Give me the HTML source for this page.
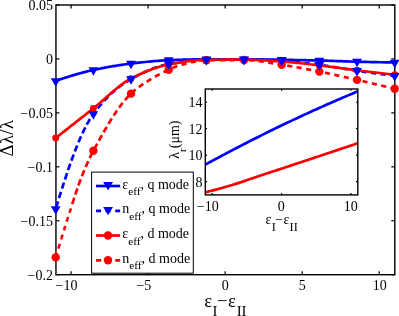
<!DOCTYPE html>
<html><head><meta charset="utf-8"><title>chart</title>
<style>
html,body{margin:0;padding:0;background:#fff;}
svg{display:block;will-change:transform;}
text{font-family:"Liberation Serif",serif;fill:#000;}
</style></head><body>
<svg width="399" height="316" viewBox="0 0 399 316">
<rect width="399" height="316" fill="#fff"/>
<defs><clipPath id="ins"><rect x="205.3" y="89.0" width="152.5" height="105.9"/></clipPath></defs>
<rect x="55.95" y="5.0" width="338.85" height="269.7" fill="none" stroke="#000" stroke-width="1.4"/>
<g stroke="#000" stroke-width="1.2"><line x1="71.08" y1="274.7" x2="71.08" y2="271.2"/><line x1="71.08" y1="5.0" x2="71.08" y2="8.5"/><line x1="148.1" y1="274.7" x2="148.1" y2="271.2"/><line x1="148.1" y1="5.0" x2="148.1" y2="8.5"/><line x1="225.14" y1="274.7" x2="225.14" y2="271.2"/><line x1="225.14" y1="5.0" x2="225.14" y2="8.5"/><line x1="302.2" y1="274.7" x2="302.2" y2="271.2"/><line x1="302.2" y1="5.0" x2="302.2" y2="8.5"/><line x1="379.2" y1="274.7" x2="379.2" y2="271.2"/><line x1="379.2" y1="5.0" x2="379.2" y2="8.5"/><line x1="55.95" y1="5.00" x2="59.45" y2="5.00"/><line x1="394.8" y1="5.00" x2="391.3" y2="5.00"/><line x1="55.95" y1="58.94" x2="59.45" y2="58.94"/><line x1="394.8" y1="58.94" x2="391.3" y2="58.94"/><line x1="55.95" y1="112.88" x2="59.45" y2="112.88"/><line x1="394.8" y1="112.88" x2="391.3" y2="112.88"/><line x1="55.95" y1="166.82" x2="59.45" y2="166.82"/><line x1="394.8" y1="166.82" x2="391.3" y2="166.82"/><line x1="55.95" y1="220.76" x2="59.45" y2="220.76"/><line x1="394.8" y1="220.76" x2="391.3" y2="220.76"/><line x1="55.95" y1="274.70" x2="59.45" y2="274.70"/><line x1="394.8" y1="274.70" x2="391.3" y2="274.70"/></g>
<path d="M55.70,81.00 L57.83,80.25 L59.96,79.52 L62.10,78.79 L64.23,78.08 L66.36,77.39 L68.49,76.70 L70.62,76.03 L72.76,75.38 L74.89,74.74 L77.02,74.12 L79.15,73.52 L81.29,72.94 L83.42,72.37 L85.55,71.83 L87.68,71.30 L89.81,70.79 L91.95,70.31 L94.08,69.85 L96.21,69.40 L98.34,68.96 L100.47,68.53 L102.61,68.10 L104.74,67.69 L106.87,67.29 L109.00,66.91 L111.13,66.53 L113.27,66.16 L115.40,65.81 L117.53,65.47 L119.66,65.14 L121.79,64.82 L123.93,64.52 L126.06,64.22 L128.19,63.95 L130.32,63.68 L132.46,63.43 L134.59,63.18 L136.72,62.94 L138.85,62.69 L140.98,62.45 L143.12,62.22 L145.25,61.99 L147.38,61.77 L149.51,61.56 L151.64,61.35 L153.78,61.16 L155.91,60.98 L158.04,60.81 L160.17,60.66 L162.30,60.52 L164.44,60.40 L166.57,60.29 L168.70,60.20 L170.83,60.12 L172.97,60.04 L175.10,59.96 L177.23,59.89 L179.36,59.82 L181.49,59.75 L183.63,59.68 L185.76,59.62 L187.89,59.56 L190.02,59.51 L192.15,59.46 L194.29,59.42 L196.42,59.38 L198.55,59.35 L200.68,59.33 L202.81,59.31 L204.95,59.30 L207.08,59.30 L209.21,59.30 L211.34,59.30 L213.47,59.30 L215.61,59.30 L217.74,59.30 L219.87,59.30 L222.00,59.30 L224.14,59.30 L226.27,59.30 L228.40,59.30 L230.53,59.30 L232.66,59.30 L234.80,59.30 L236.93,59.30 L239.06,59.30 L241.19,59.30 L243.32,59.30 L245.46,59.30 L247.59,59.31 L249.72,59.32 L251.85,59.34 L253.98,59.36 L256.12,59.38 L258.25,59.41 L260.38,59.44 L262.51,59.47 L264.65,59.51 L266.78,59.54 L268.91,59.58 L271.04,59.62 L273.17,59.66 L275.31,59.69 L277.44,59.73 L279.57,59.77 L281.70,59.80 L283.83,59.83 L285.97,59.87 L288.10,59.90 L290.23,59.94 L292.36,59.97 L294.49,60.01 L296.63,60.04 L298.76,60.08 L300.89,60.12 L303.02,60.16 L305.16,60.20 L307.29,60.24 L309.42,60.28 L311.55,60.33 L313.68,60.37 L315.82,60.42 L317.95,60.47 L320.08,60.52 L322.21,60.57 L324.34,60.63 L326.48,60.69 L328.61,60.76 L330.74,60.83 L332.87,60.90 L335.00,60.98 L337.14,61.05 L339.27,61.13 L341.40,61.20 L343.53,61.28 L345.66,61.35 L347.80,61.42 L349.93,61.49 L352.06,61.56 L354.19,61.62 L356.33,61.68 L358.46,61.74 L360.59,61.79 L362.72,61.84 L364.85,61.89 L366.99,61.94 L369.12,61.99 L371.25,62.04 L373.38,62.09 L375.51,62.14 L377.65,62.18 L379.78,62.23 L381.91,62.27 L384.04,62.31 L386.17,62.35 L388.31,62.39 L390.44,62.43 L392.57,62.47 L394.70,62.50" fill="none" stroke="#0000ff" stroke-width="2.7" stroke-linejoin="round"/>
<path d="M56.12,207.59 L56.21,207.31 L56.29,207.03 L56.38,206.75 L56.46,206.47 L56.55,206.19 L56.63,205.91 L56.72,205.63 L56.80,205.36 L56.89,205.08 L56.97,204.80 L57.06,204.52 L57.14,204.24 L57.23,203.96 L57.31,203.68 L57.40,203.41 L57.48,203.13 L57.56,202.85 L57.65,202.57 L57.73,202.29 L57.82,202.02 L57.90,201.74 L57.99,201.46 M59.01,198.16 L59.18,197.61 L59.35,197.06 L59.51,196.52 L59.68,195.97 L59.85,195.42 L60.02,194.88 L60.19,194.34 L60.36,193.79 L60.53,193.25 L60.70,192.71 L60.87,192.17 L60.96,191.90 M61.97,188.69 L62.14,188.15 L62.31,187.62 L62.48,187.09 L62.65,186.56 L62.82,186.03 L62.99,185.50 L63.16,184.98 L63.33,184.45 L63.50,183.92 L63.67,183.40 L63.84,182.88 L63.92,182.62 M64.94,179.50 L65.11,178.99 L65.28,178.47 L65.45,177.96 L65.62,177.45 L65.79,176.93 L65.96,176.42 L66.13,175.92 L66.30,175.41 L66.47,174.90 L66.64,174.40 L66.81,173.89 L66.97,173.39 L67.06,173.14 M68.08,170.15 L68.25,169.65 L68.42,169.16 L68.59,168.67 L68.75,168.18 L68.92,167.69 L69.09,167.20 L69.26,166.71 L69.43,166.23 L69.60,165.74 L69.77,165.26 L69.94,164.78 L70.11,164.30 L70.28,163.82 M71.38,160.74 L71.55,160.27 L71.72,159.80 L71.89,159.33 L72.06,158.87 L72.23,158.41 L72.40,157.94 L72.57,157.48 L72.74,157.02 L72.91,156.57 L73.08,156.11 L73.25,155.65 L73.42,155.20 L73.59,154.75 L73.67,154.52 M74.86,151.40 L75.03,150.96 L75.20,150.53 L75.37,150.09 L75.54,149.65 L75.71,149.22 L75.88,148.79 L76.05,148.36 L76.21,147.93 L76.38,147.50 L76.55,147.08 L76.72,146.65 L76.89,146.23 L77.06,145.81 L77.23,145.39 M78.50,142.30 L78.67,141.89 L78.84,141.49 L79.01,141.09 L79.18,140.69 L79.35,140.29 L79.52,139.89 L79.69,139.50 L79.86,139.10 L80.03,138.71 L80.20,138.32 L80.37,137.93 L80.54,137.55 L80.71,137.16 L80.88,136.78 L81.05,136.40 M82.40,133.42 L82.57,133.05 L82.74,132.69 L82.91,132.33 L83.08,131.97 L83.25,131.61 L83.42,131.26 L83.59,130.90 L83.76,130.55 L83.93,130.20 L84.10,129.86 L84.27,129.51 L84.44,129.17 L84.61,128.83 L84.78,128.49 L84.95,128.15 L85.12,127.81 L85.29,127.48 M86.81,124.56 L87.07,124.09 L87.32,123.63 L87.57,123.17 L87.83,122.71 L88.08,122.26 L88.34,121.82 L88.59,121.37 L88.85,120.94 L89.10,120.50 L89.35,120.08 L89.61,119.66 L89.86,119.24 L89.95,119.10 M91.90,116.08 L92.15,115.71 L92.41,115.34 L92.66,114.98 L92.91,114.62 L93.17,114.27 L93.42,113.92 L93.68,113.58 L93.93,113.24 L94.19,112.90 L94.44,112.56 L94.70,112.22 L94.95,111.89 L95.20,111.55 L95.46,111.22 L95.54,111.11 M97.75,108.31 L98.00,107.99 L98.26,107.68 L98.51,107.37 L98.76,107.06 L99.02,106.75 L99.27,106.44 L99.53,106.14 L99.78,105.83 L100.04,105.53 L100.29,105.23 L100.54,104.93 L100.80,104.63 L101.05,104.33 L101.31,104.04 L101.56,103.74 L101.65,103.65 M104.10,100.90 L104.44,100.53 L104.78,100.16 L105.12,99.80 L105.46,99.44 L105.80,99.08 L106.14,98.72 L106.48,98.37 L106.82,98.02 L107.16,97.67 L107.50,97.33 L107.83,96.99 L108.17,96.65 M110.97,93.94 L111.31,93.62 L111.65,93.31 L111.99,93.00 L112.33,92.69 L112.67,92.38 L113.01,92.08 L113.34,91.78 L113.68,91.48 L114.02,91.18 L114.36,90.88 L114.70,90.59 L115.04,90.30 L115.29,90.08 M118.35,87.59 L118.69,87.33 L119.02,87.06 L119.36,86.80 L119.70,86.54 L120.04,86.29 L120.38,86.03 L120.72,85.78 L121.06,85.53 L121.40,85.28 L121.74,85.04 L122.08,84.79 L122.42,84.55 L122.75,84.31 L122.84,84.25 M126.23,81.98 L126.57,81.76 L126.91,81.55 L127.25,81.34 L127.59,81.13 L127.93,80.92 L128.26,80.71 L128.60,80.51 L128.94,80.31 L129.28,80.11 L129.62,79.91 L129.96,79.71 L130.30,79.52 L130.64,79.32 L130.89,79.18 M134.54,77.17 L134.88,76.99 L135.22,76.81 L135.56,76.62 L135.89,76.44 L136.23,76.26 L136.57,76.08 L136.91,75.90 L137.25,75.73 L137.59,75.55 L137.93,75.37 L138.27,75.20 L138.61,75.02 L138.95,74.85 L139.29,74.67 L139.37,74.63 M143.18,72.74 L143.52,72.58 L143.86,72.42 L144.20,72.26 L144.54,72.10 L144.88,71.94 L145.22,71.78 L145.56,71.63 L145.90,71.47 L146.24,71.32 L146.58,71.17 L146.91,71.01 L147.25,70.86 L147.59,70.71 L147.93,70.56 L148.02,70.53 M152.00,68.87 L152.34,68.74 L152.68,68.60 L153.02,68.47 L153.36,68.34 L153.70,68.21 L154.04,68.09 L154.37,67.96 L154.71,67.84 L155.05,67.71 L155.39,67.59 L155.73,67.47 L156.07,67.35 L156.41,67.24 L156.75,67.12 L156.92,67.06 M161.16,65.74 L161.50,65.64 L161.83,65.55 L162.17,65.46 L162.51,65.37 L162.85,65.28 L163.19,65.19 L163.53,65.10 L163.87,65.02 L164.21,64.94 L164.55,64.86 L164.89,64.78 L165.23,64.70 L165.56,64.62 L165.90,64.55 L166.07,64.51 M170.48,63.69 L170.91,63.62 L171.33,63.55 L171.75,63.48 L172.18,63.40 L172.60,63.33 L173.02,63.26 L173.45,63.19 L173.87,63.12 L174.30,63.05 L174.72,62.98 L175.14,62.91 L175.48,62.86 M179.98,62.17 L180.40,62.10 L180.82,62.04 L181.25,61.98 L181.67,61.92 L182.09,61.86 L182.52,61.80 L182.94,61.74 L183.37,61.68 L183.79,61.63 L184.21,61.57 L184.64,61.51 L184.98,61.47 M189.47,60.92 L189.89,60.88 L190.32,60.83 L190.74,60.79 L191.17,60.74 L191.59,60.70 L192.01,60.66 L192.44,60.61 L192.86,60.57 L193.28,60.53 L193.71,60.49 L194.13,60.46 L194.47,60.43 M199.05,60.08 L199.47,60.06 L199.90,60.03 L200.32,60.01 L200.74,59.99 L201.17,59.97 L201.59,59.95 L202.02,59.93 L202.44,59.91 L202.86,59.89 L203.29,59.88 L203.71,59.86 L204.05,59.85 M208.63,59.77 L209.05,59.76 L209.48,59.76 L209.90,59.75 L210.32,59.74 L210.75,59.74 L211.17,59.73 L211.60,59.73 L212.02,59.72 L212.44,59.72 L212.87,59.71 L213.29,59.70 L213.71,59.70 M218.29,59.65 L218.72,59.64 L219.14,59.64 L219.56,59.63 L219.99,59.63 L220.41,59.62 L220.84,59.62 L221.26,59.62 L221.68,59.61 L222.11,59.61 L222.53,59.60 L222.96,59.60 L223.29,59.60 M227.87,59.56 L228.30,59.56 L228.72,59.55 L229.14,59.55 L229.57,59.55 L229.99,59.55 L230.41,59.54 L230.84,59.54 L231.26,59.54 L231.69,59.54 L232.11,59.53 L232.53,59.53 L232.87,59.53 M237.45,59.51 L237.87,59.51 L238.30,59.51 L238.72,59.51 L239.15,59.51 L239.57,59.50 L239.99,59.50 L240.42,59.50 L240.84,59.50 L241.27,59.50 L241.69,59.50 L242.11,59.50 L242.45,59.50 M247.03,59.51 L247.45,59.51 L247.88,59.52 L248.30,59.52 L248.73,59.52 L249.15,59.53 L249.57,59.53 L250.00,59.54 L250.42,59.54 L250.85,59.55 L251.27,59.55 L251.69,59.56 L252.12,59.57 M256.69,59.66 L257.12,59.67 L257.54,59.68 L257.97,59.69 L258.39,59.70 L258.81,59.71 L259.24,59.72 L259.66,59.74 L260.09,59.75 L260.51,59.76 L260.93,59.77 L261.36,59.78 L261.70,59.80 M266.27,59.95 L266.70,59.96 L267.12,59.98 L267.55,60.00 L267.97,60.01 L268.39,60.03 L268.82,60.04 L269.24,60.06 L269.66,60.08 L270.09,60.09 L270.51,60.11 L270.94,60.13 L271.28,60.14 M275.85,60.34 L276.28,60.35 L276.70,60.37 L277.12,60.39 L277.55,60.41 L277.97,60.43 L278.40,60.45 L278.82,60.47 L279.24,60.49 L279.67,60.51 L280.09,60.53 L280.52,60.55 L280.85,60.56 M285.43,60.81 L285.86,60.84 L286.28,60.87 L286.70,60.90 L287.13,60.93 L287.55,60.96 L287.98,61.00 L288.40,61.03 L288.82,61.07 L289.25,61.10 L289.67,61.14 L290.09,61.18 L290.43,61.21 M295.01,61.66 L295.44,61.71 L295.86,61.75 L296.28,61.80 L296.71,61.85 L297.13,61.90 L297.55,61.94 L297.98,61.99 L298.40,62.04 L298.83,62.09 L299.25,62.14 L299.67,62.20 L300.01,62.24 M304.51,62.80 L304.93,62.86 L305.35,62.91 L305.78,62.97 L306.20,63.03 L306.62,63.08 L307.05,63.14 L307.47,63.20 L307.90,63.25 L308.32,63.31 L308.74,63.37 L309.17,63.42 L309.51,63.47 M314.08,64.09 L314.51,64.15 L314.93,64.21 L315.36,64.26 L315.78,64.32 L316.20,64.38 L316.63,64.44 L317.05,64.49 L317.48,64.55 L317.90,64.61 L318.32,64.66 L318.75,64.72 L319.09,64.76 M323.58,65.38 L324.00,65.45 L324.43,65.51 L324.85,65.57 L325.27,65.63 L325.70,65.70 L326.12,65.76 L326.55,65.83 L326.97,65.89 L327.39,65.96 L327.82,66.02 L328.24,66.09 L328.58,66.14 M333.07,66.87 L333.50,66.94 L333.92,67.01 L334.35,67.08 L334.77,67.16 L335.19,67.23 L335.62,67.30 L336.04,67.37 L336.46,67.44 L336.89,67.51 L337.31,67.58 L337.74,67.66 L338.08,67.71 M342.57,68.48 L342.99,68.55 L343.42,68.62 L343.84,68.69 L344.26,68.77 L344.69,68.84 L345.11,68.91 L345.54,68.98 L345.96,69.05 L346.38,69.12 L346.81,69.19 L347.23,69.26 L347.57,69.32 M352.06,70.05 L352.40,70.10 L352.74,70.15 L353.08,70.21 L353.42,70.26 L353.76,70.31 L354.10,70.36 L354.44,70.41 L354.78,70.47 L355.11,70.52 L355.45,70.57 L355.79,70.62 L356.13,70.67 L356.47,70.72 L356.81,70.77 L356.98,70.79 M361.56,71.45 L361.98,71.51 L362.40,71.57 L362.83,71.63 L363.25,71.69 L363.68,71.75 L364.10,71.81 L364.52,71.87 L364.95,71.93 L365.37,71.99 L365.80,72.05 L366.22,72.10 L366.56,72.15 M371.05,72.77 L371.48,72.83 L371.90,72.89 L372.32,72.94 L372.75,73.00 L373.17,73.06 L373.59,73.11 L374.02,73.17 L374.44,73.23 L374.87,73.29 L375.29,73.34 L375.71,73.40 L376.05,73.44 M380.55,74.03 L380.97,74.09 L381.39,74.14 L381.82,74.20 L382.24,74.25 L382.67,74.31 L383.09,74.36 L383.51,74.42 L383.94,74.47 L384.36,74.52 L384.78,74.58 L385.21,74.63 L385.55,74.67 M390.13,75.25 L390.46,75.29 L390.80,75.33 L391.14,75.37 L391.48,75.41 L391.82,75.45 L392.16,75.49 L392.50,75.53 L392.84,75.58 L393.18,75.62 L393.52,75.66 L393.86,75.70 L394.19,75.74 L394.53,75.78 L394.70,75.80" fill="none" stroke="#0000ff" stroke-width="2.7" stroke-linejoin="round"/>
<path d="M55.70,138.00 L57.83,136.33 L59.96,134.66 L62.10,132.99 L64.23,131.32 L66.36,129.64 L68.49,127.97 L70.62,126.30 L72.76,124.62 L74.89,122.95 L77.02,121.27 L79.15,119.59 L81.29,117.92 L83.42,116.24 L85.55,114.56 L87.68,112.88 L89.81,111.20 L91.95,109.52 L94.08,107.84 L96.21,106.10 L98.34,104.31 L100.47,102.48 L102.61,100.62 L104.74,98.74 L106.87,96.85 L109.00,94.97 L111.13,93.10 L113.27,91.27 L115.40,89.47 L117.53,87.72 L119.66,86.03 L121.79,84.43 L123.93,82.90 L126.06,81.48 L128.19,80.16 L130.32,78.97 L132.46,77.88 L134.59,76.82 L136.72,75.79 L138.85,74.78 L140.98,73.79 L143.12,72.84 L145.25,71.92 L147.38,71.03 L149.51,70.18 L151.64,69.36 L153.78,68.59 L155.91,67.86 L158.04,67.18 L160.17,66.54 L162.30,65.95 L164.44,65.41 L166.57,64.93 L168.70,64.50 L170.83,64.10 L172.97,63.71 L175.10,63.32 L177.23,62.94 L179.36,62.57 L181.49,62.21 L183.63,61.87 L185.76,61.55 L187.89,61.24 L190.02,60.96 L192.15,60.71 L194.29,60.48 L196.42,60.28 L198.55,60.11 L200.68,59.97 L202.81,59.88 L204.95,59.82 L207.08,59.80 L209.21,59.79 L211.34,59.78 L213.47,59.77 L215.61,59.76 L217.74,59.75 L219.87,59.74 L222.00,59.73 L224.14,59.73 L226.27,59.72 L228.40,59.72 L230.53,59.71 L232.66,59.71 L234.80,59.71 L236.93,59.70 L239.06,59.70 L241.19,59.70 L243.32,59.70 L245.46,59.70 L247.59,59.73 L249.72,59.76 L251.85,59.82 L253.98,59.88 L256.12,59.96 L258.25,60.06 L260.38,60.16 L262.51,60.27 L264.65,60.39 L266.78,60.52 L268.91,60.65 L271.04,60.79 L273.17,60.93 L275.31,61.07 L277.44,61.22 L279.57,61.36 L281.70,61.50 L283.83,61.65 L285.97,61.81 L288.10,61.98 L290.23,62.17 L292.36,62.37 L294.49,62.58 L296.63,62.80 L298.76,63.02 L300.89,63.25 L303.02,63.49 L305.16,63.74 L307.29,63.98 L309.42,64.23 L311.55,64.48 L313.68,64.74 L315.82,64.99 L317.95,65.24 L320.08,65.48 L322.21,65.74 L324.34,66.00 L326.48,66.26 L328.61,66.54 L330.74,66.81 L332.87,67.10 L335.00,67.38 L337.14,67.67 L339.27,67.96 L341.40,68.25 L343.53,68.54 L345.66,68.82 L347.80,69.11 L349.93,69.39 L352.06,69.67 L354.19,69.94 L356.33,70.21 L358.46,70.47 L360.59,70.74 L362.72,70.99 L364.85,71.25 L366.99,71.51 L369.12,71.76 L371.25,72.02 L373.38,72.27 L375.51,72.52 L377.65,72.77 L379.78,73.02 L381.91,73.26 L384.04,73.50 L386.17,73.75 L388.31,73.99 L390.44,74.23 L392.57,74.46 L394.70,74.70" fill="none" stroke="#ff0000" stroke-width="2.7" stroke-linejoin="round"/>
<path d="M55.70,257.40 L55.78,257.11 L55.87,256.82 L55.95,256.53 L56.04,256.25 L56.12,255.96 L56.21,255.67 L56.29,255.38 L56.38,255.10 L56.46,254.81 L56.55,254.52 L56.63,254.23 L56.72,253.95 L56.80,253.66 L56.89,253.37 L56.97,253.09 L57.06,252.80 M58.33,248.53 L58.41,248.25 L58.50,247.96 L58.58,247.68 L58.67,247.40 L58.75,247.11 L58.84,246.83 L58.92,246.55 L59.01,246.27 L59.09,245.98 L59.18,245.70 L59.26,245.42 L59.35,245.14 L59.43,244.86 L59.51,244.58 L59.60,244.30 L59.68,244.01 L59.77,243.73 M61.13,239.26 L61.21,238.98 L61.29,238.71 L61.38,238.43 L61.46,238.15 L61.55,237.87 L61.63,237.59 L61.72,237.32 L61.80,237.04 L61.89,236.76 L61.97,236.49 L62.06,236.21 L62.14,235.93 L62.23,235.66 L62.31,235.38 L62.40,235.11 L62.48,234.83 L62.57,234.56 M63.84,230.44 L63.92,230.17 L64.01,229.90 L64.09,229.63 L64.18,229.35 L64.26,229.08 L64.35,228.81 L64.43,228.54 L64.52,228.27 L64.60,227.99 L64.69,227.72 L64.77,227.45 L64.86,227.18 L64.94,226.91 L65.02,226.64 L65.11,226.37 L65.19,226.10 L65.28,225.83 M66.64,221.53 L66.72,221.26 L66.81,220.99 L66.89,220.72 L66.97,220.46 L67.06,220.19 L67.14,219.92 L67.23,219.66 L67.31,219.39 L67.40,219.13 L67.48,218.86 L67.57,218.59 L67.65,218.33 L67.74,218.06 L67.82,217.80 L67.91,217.53 L67.99,217.27 L68.08,217.00 M69.43,212.79 L69.52,212.53 L69.60,212.26 L69.69,212.00 L69.77,211.74 L69.86,211.47 L69.94,211.21 L70.03,210.95 L70.11,210.68 L70.20,210.42 L70.28,210.16 L70.37,209.89 L70.45,209.63 L70.54,209.36 L70.62,209.10 L70.70,208.84 L70.79,208.57 L70.87,208.31 M72.23,204.08 L72.40,203.55 L72.57,203.02 L72.74,202.50 L72.91,201.97 L73.08,201.44 L73.25,200.92 L73.42,200.39 L73.59,199.87 L73.76,199.34 L73.93,198.82 L74.10,198.30 L74.27,197.78 M75.28,194.68 L75.45,194.16 L75.62,193.65 L75.79,193.14 L75.96,192.63 L76.13,192.13 L76.30,191.62 L76.47,191.12 L76.64,190.61 L76.81,190.11 L76.98,189.62 L77.15,189.12 L77.32,188.62 L77.40,188.38 M78.42,185.46 L78.59,184.98 L78.76,184.51 L78.93,184.03 L79.10,183.56 L79.27,183.09 L79.44,182.63 L79.61,182.17 L79.78,181.71 L79.94,181.25 L80.11,180.79 L80.28,180.34 L80.45,179.89 L80.62,179.45 L80.71,179.23 M81.89,176.20 L82.06,175.77 L82.23,175.35 L82.40,174.92 L82.57,174.50 L82.74,174.08 L82.91,173.66 L83.08,173.24 L83.25,172.83 L83.42,172.41 L83.59,172.00 L83.76,171.58 L83.93,171.17 L84.10,170.76 L84.27,170.35 L84.35,170.15 M85.71,166.94 L85.88,166.55 L86.05,166.16 L86.22,165.77 L86.39,165.38 L86.56,164.99 L86.73,164.60 L86.90,164.22 L87.07,163.83 L87.24,163.45 L87.40,163.07 L87.57,162.69 L87.74,162.32 L87.91,161.94 L88.08,161.57 L88.25,161.20 M89.69,158.10 L89.86,157.75 L90.03,157.39 L90.20,157.04 L90.37,156.69 L90.54,156.34 L90.71,155.99 L90.88,155.65 L91.05,155.31 L91.22,154.96 L91.39,154.62 L91.56,154.29 L91.73,153.95 L91.90,153.62 L92.07,153.28 L92.24,152.95 L92.41,152.63 L92.58,152.30 M94.19,149.27 L94.44,148.80 L94.70,148.33 L94.95,147.85 L95.20,147.38 L95.46,146.91 L95.71,146.44 L95.97,145.97 L96.22,145.50 L96.48,145.03 L96.73,144.57 L96.98,144.10 L97.24,143.63 M98.85,140.69 L99.10,140.23 L99.36,139.77 L99.61,139.31 L99.87,138.85 L100.12,138.39 L100.37,137.94 L100.63,137.48 L100.88,137.03 L101.14,136.57 L101.39,136.12 L101.65,135.67 L101.90,135.21 M103.60,132.23 L103.85,131.78 L104.10,131.34 L104.36,130.90 L104.61,130.46 L104.87,130.02 L105.12,129.58 L105.38,129.14 L105.63,128.71 L105.88,128.27 L106.14,127.84 L106.39,127.40 L106.65,126.97 L106.73,126.83 M108.51,123.85 L108.77,123.43 L109.02,123.01 L109.28,122.59 L109.53,122.17 L109.78,121.76 L110.04,121.35 L110.29,120.93 L110.55,120.52 L110.80,120.11 L111.06,119.71 L111.31,119.30 L111.56,118.89 L111.82,118.49 M113.68,115.58 L113.94,115.19 L114.19,114.81 L114.45,114.42 L114.70,114.03 L114.96,113.65 L115.21,113.27 L115.46,112.89 L115.72,112.51 L115.97,112.14 L116.23,111.76 L116.48,111.39 L116.74,111.02 L116.99,110.65 L117.07,110.53 M119.11,107.65 L119.36,107.30 L119.62,106.95 L119.87,106.61 L120.13,106.26 L120.38,105.92 L120.64,105.58 L120.89,105.24 L121.14,104.90 L121.40,104.57 L121.65,104.24 L121.91,103.91 L122.16,103.58 L122.42,103.25 L122.67,102.93 M124.96,100.12 L125.21,99.82 L125.47,99.52 L125.72,99.22 L125.98,98.93 L126.23,98.64 L126.48,98.35 L126.74,98.06 L126.99,97.78 L127.25,97.49 L127.50,97.22 L127.76,96.94 L128.01,96.66 L128.26,96.39 L128.52,96.12 L128.77,95.86 L128.86,95.77 M131.49,93.17 L131.83,92.86 L132.16,92.54 L132.50,92.24 L132.84,91.93 L133.18,91.63 L133.52,91.33 L133.86,91.04 L134.20,90.75 L134.54,90.46 L134.88,90.17 L135.22,89.89 L135.56,89.61 L135.72,89.47 M138.86,87.04 L139.20,86.79 L139.54,86.54 L139.88,86.29 L140.22,86.05 L140.56,85.81 L140.90,85.57 L141.23,85.33 L141.57,85.10 L141.91,84.86 L142.25,84.63 L142.59,84.40 L142.93,84.17 L143.27,83.95 M146.66,81.75 L147.00,81.54 L147.34,81.33 L147.68,81.12 L148.02,80.91 L148.36,80.70 L148.69,80.49 L149.03,80.28 L149.37,80.07 L149.71,79.86 L150.05,79.65 L150.39,79.44 L150.73,79.24 L151.07,79.03 L151.24,78.93 M154.88,76.80 L155.22,76.61 L155.56,76.42 L155.90,76.23 L156.24,76.04 L156.58,75.86 L156.92,75.67 L157.26,75.49 L157.60,75.30 L157.93,75.12 L158.27,74.94 L158.61,74.76 L158.95,74.58 L159.29,74.40 L159.63,74.22 L159.72,74.18 M163.53,72.24 L163.87,72.08 L164.21,71.91 L164.55,71.75 L164.89,71.58 L165.23,71.42 L165.56,71.26 L165.90,71.10 L166.24,70.94 L166.58,70.78 L166.92,70.62 L167.26,70.46 L167.60,70.31 L167.94,70.15 L168.28,69.99 L168.45,69.92 M172.43,68.09 L172.77,67.93 L173.11,67.78 L173.45,67.63 L173.79,67.48 L174.13,67.33 L174.47,67.19 L174.80,67.04 L175.14,66.90 L175.48,66.76 L175.82,66.62 L176.16,66.49 L176.50,66.36 L176.84,66.23 L177.18,66.10 L177.26,66.07 M181.59,64.77 L182.01,64.66 L182.43,64.55 L182.86,64.43 L183.28,64.32 L183.71,64.21 L184.13,64.10 L184.55,63.99 L184.98,63.87 L185.40,63.76 L185.82,63.65 L186.25,63.55 L186.59,63.46 M191.00,62.39 L191.42,62.30 L191.84,62.20 L192.27,62.11 L192.69,62.02 L193.12,61.93 L193.54,61.84 L193.96,61.76 L194.39,61.68 L194.81,61.59 L195.23,61.51 L195.66,61.44 L196.00,61.37 M200.58,60.70 L201.00,60.65 L201.42,60.60 L201.85,60.56 L202.27,60.52 L202.69,60.48 L203.12,60.45 L203.54,60.42 L203.97,60.39 L204.39,60.37 L204.81,60.35 L205.24,60.33 L205.66,60.32 M210.24,60.24 L210.66,60.23 L211.09,60.23 L211.51,60.22 L211.93,60.22 L212.36,60.21 L212.78,60.21 L213.21,60.20 L213.63,60.19 L214.05,60.19 L214.48,60.18 L214.90,60.18 L215.33,60.17 M219.99,60.12 L220.41,60.12 L220.84,60.11 L221.26,60.11 L221.68,60.10 L222.11,60.10 L222.53,60.10 L222.96,60.09 L223.38,60.09 L223.80,60.09 L224.23,60.08 L224.65,60.08 L225.07,60.07 M229.74,60.04 L230.16,60.04 L230.58,60.04 L231.01,60.04 L231.43,60.03 L231.86,60.03 L232.28,60.03 L232.70,60.03 L233.13,60.02 L233.55,60.02 L233.98,60.02 L234.40,60.02 L234.82,60.02 M239.40,60.00 L239.82,60.00 L240.25,60.00 L240.67,60.00 L241.10,60.00 L241.52,60.00 L241.94,60.00 L242.37,60.00 L242.79,60.00 L243.22,60.00 L243.64,60.00 L244.06,60.00 L244.49,60.00 M249.15,60.15 L249.57,60.18 L250.00,60.20 L250.42,60.23 L250.85,60.26 L251.27,60.30 L251.69,60.33 L252.12,60.36 L252.54,60.40 L252.96,60.44 L253.39,60.48 L253.81,60.52 L254.15,60.56 M258.73,61.10 L259.15,61.16 L259.58,61.21 L260.00,61.27 L260.42,61.33 L260.85,61.39 L261.27,61.46 L261.70,61.52 L262.12,61.58 L262.54,61.65 L262.97,61.71 L263.39,61.78 L263.73,61.83 M268.22,62.57 L268.65,62.64 L269.07,62.71 L269.49,62.78 L269.92,62.85 L270.34,62.93 L270.77,63.00 L271.19,63.07 L271.61,63.14 L272.04,63.22 L272.46,63.29 L272.89,63.36 L273.22,63.42 M277.72,64.17 L278.14,64.24 L278.57,64.31 L278.99,64.38 L279.41,64.45 L279.84,64.51 L280.26,64.58 L280.68,64.65 L281.11,64.71 L281.53,64.77 L281.96,64.84 L282.38,64.90 L282.72,64.95 M287.21,65.66 L287.64,65.73 L288.06,65.80 L288.48,65.86 L288.91,65.93 L289.33,66.00 L289.76,66.07 L290.18,66.15 L290.60,66.22 L291.03,66.29 L291.45,66.36 L291.87,66.43 L292.21,66.49 M296.62,67.26 L297.05,67.34 L297.47,67.41 L297.89,67.49 L298.32,67.56 L298.74,67.64 L299.17,67.72 L299.59,67.80 L300.01,67.87 L300.44,67.95 L300.86,68.03 L301.28,68.11 L301.62,68.17 M306.12,69.01 L306.54,69.09 L306.96,69.18 L307.39,69.26 L307.81,69.34 L308.24,69.42 L308.66,69.50 L309.08,69.58 L309.51,69.66 L309.93,69.75 L310.35,69.83 L310.78,69.91 L311.12,69.98 M315.53,70.84 L315.95,70.92 L316.37,71.01 L316.80,71.09 L317.22,71.17 L317.65,71.26 L318.07,71.34 L318.49,71.43 L318.92,71.51 L319.34,71.59 L319.76,71.68 L320.19,71.76 L320.53,71.83 M324.94,72.73 L325.36,72.82 L325.78,72.91 L326.21,73.00 L326.63,73.09 L327.05,73.18 L327.48,73.27 L327.90,73.36 L328.33,73.45 L328.75,73.54 L329.17,73.63 L329.60,73.72 L329.94,73.79 M334.35,74.75 L334.77,74.85 L335.19,74.94 L335.62,75.03 L336.04,75.13 L336.46,75.22 L336.89,75.32 L337.31,75.41 L337.74,75.51 L338.16,75.60 L338.58,75.70 L339.01,75.79 L339.35,75.87 M343.76,76.86 L344.18,76.96 L344.60,77.06 L345.03,77.15 L345.45,77.25 L345.87,77.35 L346.30,77.44 L346.72,77.54 L347.15,77.64 L347.57,77.73 L347.99,77.83 L348.42,77.93 L348.76,78.01 M353.08,79.00 L353.50,79.09 L353.93,79.19 L354.35,79.29 L354.78,79.38 L355.20,79.48 L355.62,79.58 L356.05,79.67 L356.47,79.77 L356.89,79.87 L357.32,79.96 L357.74,80.06 L358.08,80.14 M362.49,81.15 L362.91,81.25 L363.34,81.35 L363.76,81.44 L364.19,81.54 L364.61,81.64 L365.03,81.74 L365.46,81.84 L365.88,81.93 L366.30,82.03 L366.73,82.13 L367.15,82.23 L367.49,82.31 M371.81,83.32 L372.24,83.42 L372.66,83.52 L373.09,83.62 L373.51,83.72 L373.93,83.82 L374.36,83.92 L374.78,84.02 L375.21,84.12 L375.63,84.22 L376.05,84.32 L376.48,84.42 L376.82,84.50 M381.22,85.55 L381.65,85.65 L382.07,85.75 L382.50,85.85 L382.92,85.95 L383.34,86.05 L383.77,86.15 L384.19,86.26 L384.62,86.36 L385.04,86.46 L385.46,86.56 L385.89,86.66 L386.23,86.74 M390.55,87.79 L390.89,87.87 L391.23,87.95 L391.57,88.04 L391.91,88.12 L392.24,88.20 L392.58,88.28 L392.92,88.37 L393.26,88.45 L393.60,88.53 L393.94,88.61 L394.28,88.70 L394.62,88.78 L394.70,88.80" fill="none" stroke="#ff0000" stroke-width="2.7" stroke-linejoin="round"/>
<g fill="#ff0000"><circle cx="55.70" cy="138.00" r="3.45"/><circle cx="93.37" cy="108.40" r="3.45"/><circle cx="131.03" cy="78.60" r="3.45"/><circle cx="168.70" cy="64.50" r="3.45"/><circle cx="206.37" cy="59.80" r="3.45"/><circle cx="244.04" cy="59.70" r="3.45"/><circle cx="281.70" cy="61.50" r="3.45"/><circle cx="319.37" cy="65.40" r="3.45"/><circle cx="357.04" cy="70.30" r="3.45"/><circle cx="394.70" cy="74.70" r="3.45"/></g>
<g fill="#ff0000"><circle cx="55.70" cy="257.40" r="4.2"/><circle cx="93.37" cy="150.80" r="4.2"/><circle cx="131.03" cy="93.60" r="4.2"/><circle cx="168.70" cy="69.80" r="4.2"/><circle cx="206.37" cy="60.30" r="4.2"/><circle cx="244.04" cy="60.00" r="4.2"/><circle cx="281.70" cy="64.80" r="4.2"/><circle cx="319.37" cy="71.60" r="4.2"/><circle cx="357.04" cy="79.90" r="4.2"/><circle cx="394.70" cy="88.80" r="4.2"/></g>
<g fill="#0000ff"><polygon points="50.80,78.17 60.60,78.17 55.70,86.66"/><polygon points="88.47,67.17 98.27,67.17 93.37,75.66"/><polygon points="126.13,60.77 135.93,60.77 131.03,69.26"/><polygon points="163.80,57.37 173.60,57.37 168.70,65.86"/><polygon points="201.47,56.47 211.27,56.47 206.37,64.96"/><polygon points="239.14,56.47 248.94,56.47 244.04,64.96"/><polygon points="276.80,56.97 286.60,56.97 281.70,65.46"/><polygon points="314.47,57.67 324.27,57.67 319.37,66.16"/><polygon points="352.14,58.87 361.94,58.87 357.04,67.36"/><polygon points="389.80,59.67 399.60,59.67 394.70,68.16"/></g>
<g fill="#0000ff"><polygon points="50.80,206.17 60.60,206.17 55.70,214.66"/><polygon points="88.47,111.17 98.27,111.17 93.37,119.66"/><polygon points="126.13,76.27 135.93,76.27 131.03,84.76"/><polygon points="163.80,61.17 173.60,61.17 168.70,69.66"/><polygon points="201.47,56.97 211.27,56.97 206.37,65.46"/><polygon points="239.14,56.67 248.94,56.67 244.04,65.16"/><polygon points="276.80,57.77 286.60,57.77 281.70,66.26"/><polygon points="314.47,61.97 324.27,61.97 319.37,70.46"/><polygon points="352.14,67.97 361.94,67.97 357.04,76.46"/><polygon points="389.80,72.97 399.60,72.97 394.70,81.46"/></g>
<g font-size="14"><text x="53.0" y="10.30" text-anchor="end">0.05</text><text x="53.0" y="64.24" text-anchor="end">0</text><text x="53.0" y="118.18" text-anchor="end">−0.05</text><text x="53.0" y="172.12" text-anchor="end">−0.1</text><text x="53.0" y="226.06" text-anchor="end">−0.15</text><text x="53.0" y="280.00" text-anchor="end">−0.2</text><text x="66.55" y="289.9" text-anchor="middle">−10</text><text x="143.85" y="289.9" text-anchor="middle">−5</text><text x="225.2" y="289.9" text-anchor="middle">0</text><text x="302.3" y="289.9" text-anchor="middle">5</text><text x="379.75" y="289.9" text-anchor="middle">10</text></g>
<g font-size="18.5"><text x="204.2" y="307.0">ε</text><text x="216.9" y="307.0">−</text><text x="227.9" y="307.0">ε</text></g>
<g font-size="14.8"><text x="212.4" y="315.8">I</text><text x="236.7" y="315.8">II</text></g>
<text transform="translate(13.05,156.5) rotate(-90)" font-size="18.5" letter-spacing="0.5">Δλ/λ</text>
<rect x="91.6" y="172.1" width="101.7" height="101.1" fill="#fff" stroke="#000" stroke-width="1"/>
<line x1="96" y1="186.0" x2="120.1" y2="186.0" stroke="#0000ff" stroke-width="2.7"/>
<g fill="#0000ff"><polygon points="103.15,182.10 113.05,182.10 108.10,190.40"/></g>
<text x="122.3" y="188.50" font-size="14">ε<tspan font-size="11.2" dy="6.6">eff</tspan><tspan dy="-6.6">, q mode</tspan></text>
<line x1="96" y1="210.8" x2="120.1" y2="210.8" stroke="#0000ff" stroke-width="2.7" stroke-dasharray="5.1 4.5"/>
<g fill="#0000ff"><polygon points="103.15,206.90 113.05,206.90 108.10,215.20"/></g>
<text x="122.3" y="213.30" font-size="14">n<tspan font-size="11.2" dy="6.6">eff</tspan><tspan dy="-6.6">, q mode</tspan></text>
<line x1="96" y1="235.5" x2="120.1" y2="235.5" stroke="#ff0000" stroke-width="2.7"/>
<g fill="#ff0000"><circle cx="108.00" cy="235.50" r="4.2"/></g>
<text x="122.3" y="238.00" font-size="14">ε<tspan font-size="11.2" dy="6.6">eff</tspan><tspan dy="-6.6">, d mode</tspan></text>
<line x1="96" y1="260.3" x2="120.1" y2="260.3" stroke="#ff0000" stroke-width="2.7" stroke-dasharray="5.1 4.5"/>
<g fill="#ff0000"><circle cx="108.00" cy="260.30" r="4.2"/></g>
<text x="122.3" y="262.80" font-size="14">n<tspan font-size="11.2" dy="6.6">eff</tspan><tspan dy="-6.6">, d mode</tspan></text>
<rect x="205.3" y="89.0" width="152.5" height="105.9" fill="#fff"/>
<path d="M205.40,164.57 L207.98,163.16 L210.57,161.76 L213.15,160.36 L215.74,158.97 L218.32,157.58 L220.91,156.20 L223.49,154.82 L226.08,153.45 L228.66,152.09 L231.25,150.73 L233.83,149.38 L236.42,148.03 L239.00,146.69 L241.59,145.36 L244.17,144.03 L246.76,142.70 L249.34,141.39 L251.93,140.07 L254.51,138.77 L257.09,137.47 L259.68,136.17 L262.26,134.89 L264.85,133.60 L267.43,132.33 L270.02,131.06 L272.60,129.79 L275.19,128.53 L277.77,127.28 L280.36,126.03 L282.94,124.79 L285.53,123.55 L288.11,122.32 L290.70,121.10 L293.28,119.88 L295.87,118.67 L298.45,117.46 L301.04,116.26 L303.62,115.06 L306.21,113.87 L308.79,112.69 L311.37,111.51 L313.96,110.34 L316.54,109.17 L319.13,108.01 L321.71,106.86 L324.30,105.71 L326.88,104.56 L329.47,103.43 L332.05,102.30 L334.64,101.17 L337.22,100.05 L339.81,98.94 L342.39,97.83 L344.98,96.72 L347.56,95.63 L350.15,94.54 L352.73,93.45 L355.32,92.37 L357.90,91.30" fill="none" stroke="#0000ff" stroke-width="2.7" clip-path="url(#ins)"/>
<path d="M205.40,192.28 L207.98,191.64 L210.57,191.00 L213.15,190.33 L215.74,189.64 L218.32,188.94 L220.91,188.23 L223.49,187.50 L226.08,186.76 L228.66,186.00 L231.25,185.23 L233.83,184.45 L236.42,183.66 L239.00,182.86 L241.59,182.02 L244.17,181.15 L246.76,180.25 L249.34,179.35 L251.93,178.44 L254.51,177.55 L257.09,176.67 L259.68,175.81 L262.26,174.95 L264.85,174.09 L267.43,173.24 L270.02,172.40 L272.60,171.55 L275.19,170.70 L277.77,169.86 L280.36,169.01 L282.94,168.16 L285.53,167.31 L288.11,166.45 L290.70,165.60 L293.28,164.75 L295.87,163.89 L298.45,163.03 L301.04,162.18 L303.62,161.32 L306.21,160.46 L308.79,159.60 L311.37,158.74 L313.96,157.88 L316.54,157.02 L319.13,156.16 L321.71,155.30 L324.30,154.44 L326.88,153.58 L329.47,152.72 L332.05,151.85 L334.64,150.99 L337.22,150.13 L339.81,149.26 L342.39,148.40 L344.98,147.53 L347.56,146.67 L350.15,145.80 L352.73,144.93 L355.32,144.07 L357.90,143.20" fill="none" stroke="#ff0000" stroke-width="2.7" clip-path="url(#ins)"/>
<rect x="205.3" y="89.0" width="152.5" height="105.9" fill="none" stroke="#000" stroke-width="1.4"/>
<g stroke="#000" stroke-width="1.2"><line x1="212.23" y1="194.9" x2="212.23" y2="193.1"/><line x1="212.23" y1="89.0" x2="212.23" y2="90.8"/><line x1="281.55" y1="194.9" x2="281.55" y2="193.1"/><line x1="281.55" y1="89.0" x2="281.55" y2="90.8"/><line x1="350.87" y1="194.9" x2="350.87" y2="193.1"/><line x1="350.87" y1="89.0" x2="350.87" y2="90.8"/><line x1="205.3" y1="181.66" x2="207.10000000000002" y2="181.66"/><line x1="357.8" y1="181.66" x2="356.0" y2="181.66"/><line x1="205.3" y1="155.19" x2="207.10000000000002" y2="155.19"/><line x1="357.8" y1="155.19" x2="356.0" y2="155.19"/><line x1="205.3" y1="128.71" x2="207.10000000000002" y2="128.71"/><line x1="357.8" y1="128.71" x2="356.0" y2="128.71"/><line x1="205.3" y1="102.24" x2="207.10000000000002" y2="102.24"/><line x1="357.8" y1="102.24" x2="356.0" y2="102.24"/></g>
<g font-size="14"><text x="202.6" y="186.86" text-anchor="end">8</text><text x="202.6" y="160.39" text-anchor="end">10</text><text x="202.6" y="133.91" text-anchor="end">12</text><text x="202.6" y="107.44" text-anchor="end">14</text><text x="207.8" y="210.7" text-anchor="middle">−10</text><text x="281.15" y="210.7" text-anchor="middle">0</text><text x="350.8" y="210.7" text-anchor="middle">10</text></g>
<g font-size="14"><text x="265.6" y="224">ε</text><text x="275.3" y="224">−</text><text x="283.5" y="224">ε</text></g>
<g font-size="12.2"><text x="271.8" y="231.4">I</text><text x="289.6" y="231.4">II</text></g>
<text transform="translate(179.2,158.8) rotate(-90)" font-size="14">λ<tspan font-size="11.2" dy="6.7">r</tspan><tspan dy="-6.7">(μm)</tspan></text>
</svg></body></html>
